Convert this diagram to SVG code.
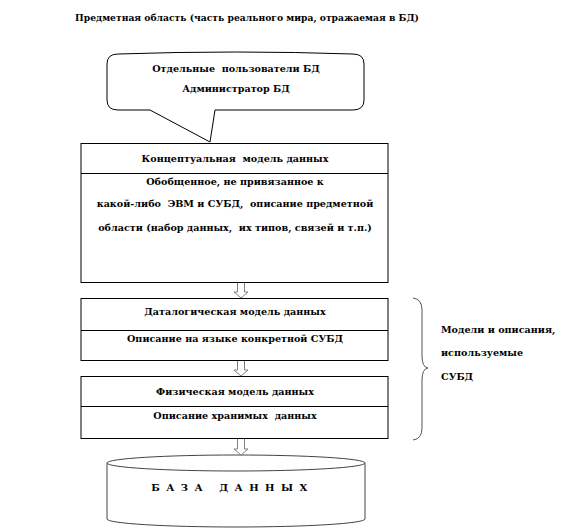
<svg xmlns="http://www.w3.org/2000/svg" width="573" height="532" viewBox="0 0 573 532">
<style>
text{font-family:'DejaVu Serif','Liberation Serif',serif;font-weight:bold;font-size:9.6px;fill:#000;white-space:pre}
.c{text-anchor:middle}
.box{fill:#fff;stroke:#000;stroke-width:1}
.ar{fill:#fff;stroke:#808080;stroke-width:1}
</style>
<rect width="573" height="532" fill="#fff"/>
<text id="title" class="c" x="247" y="21" style="font-size:9.2px">Предметная область (часть реального мира, отражаемая в БД)</text>
<g id="users">
<path class="box" d="M118 54 Q236 50 353 54 Q364 54 364 64 V100 Q364 110 353 110 H215 L210 142 L150 110 H118 Q107 110 107 100 V64 Q107 54 118 54 Z"/>
<text class="c" x="236" y="72">Отдельные  пользователи БД</text>
<text class="c" x="236" y="92">Администратор БД</text>
</g>
<g id="conceptual">
<rect class="box" x="81" y="143.5" width="307" height="139"/>
<line x1="81" y1="173.5" x2="388" y2="173.5" stroke="#000"/>
<text class="c" x="235" y="162">Концептуальная  модель данных</text>
<text class="c" x="235" y="185">Обобщенное, не привязанное к</text>
<text class="c" x="235" y="207">какой-либо  ЭВМ и СУБД,  описание предметной</text>
<text class="c" x="235" y="231">области (набор данных,  их типов, связей и т.п.)</text>
</g>
<g id="datalogical">
<rect class="box" x="81" y="298.5" width="307" height="62"/>
<line x1="81" y1="330.5" x2="388" y2="330.5" stroke="#000"/>
<text class="c" x="235" y="315">Даталогическая модель данных</text>
<text class="c" x="235" y="342">Описание на языке конкретной СУБД</text>
</g>
<g id="physical">
<rect class="box" x="81" y="376.5" width="307" height="62"/>
<line x1="81" y1="406.5" x2="388" y2="406.5" stroke="#000"/>
<text class="c" x="235" y="395">Физическая модель данных</text>
<text class="c" x="235" y="419">Описание хранимых  данных</text>
</g>
<g id="database">
<path d="M107 463 V519 A129 8 0 0 0 365 519 V463" fill="#fff" stroke="#444"/>
<ellipse cx="236" cy="463" rx="129" ry="8" fill="#fff" stroke="#444"/>
<text class="c" x="230" y="491" style="letter-spacing:1.5px;font-size:10px">Б А З А   Д А Н Н Ы Х</text>
</g>
<g id="note">
<path d="M413 298 Q422 299 422 310 V356 Q422 367 428 368 Q422 369 422 380 V428 Q422 439 413 440" fill="none" stroke="#555"/>
<text x="441" y="333">Модели и описания,</text>
<text x="441" y="356">используемые</text>
<text x="441" y="380">СУБД</text>
</g>
<g id="connectors">
<path class="ar" d="M237.5 283 V292 H234 L241 298 L248 292 H244.5 V283"/>
<path class="ar" d="M237.5 361 V370 H234 L241 376 L248 370 H244.5 V361"/>
<path class="ar" d="M237.5 439 V449 H234 L241 455 L248 449 H244.5 V439"/>
</g>
</svg>
